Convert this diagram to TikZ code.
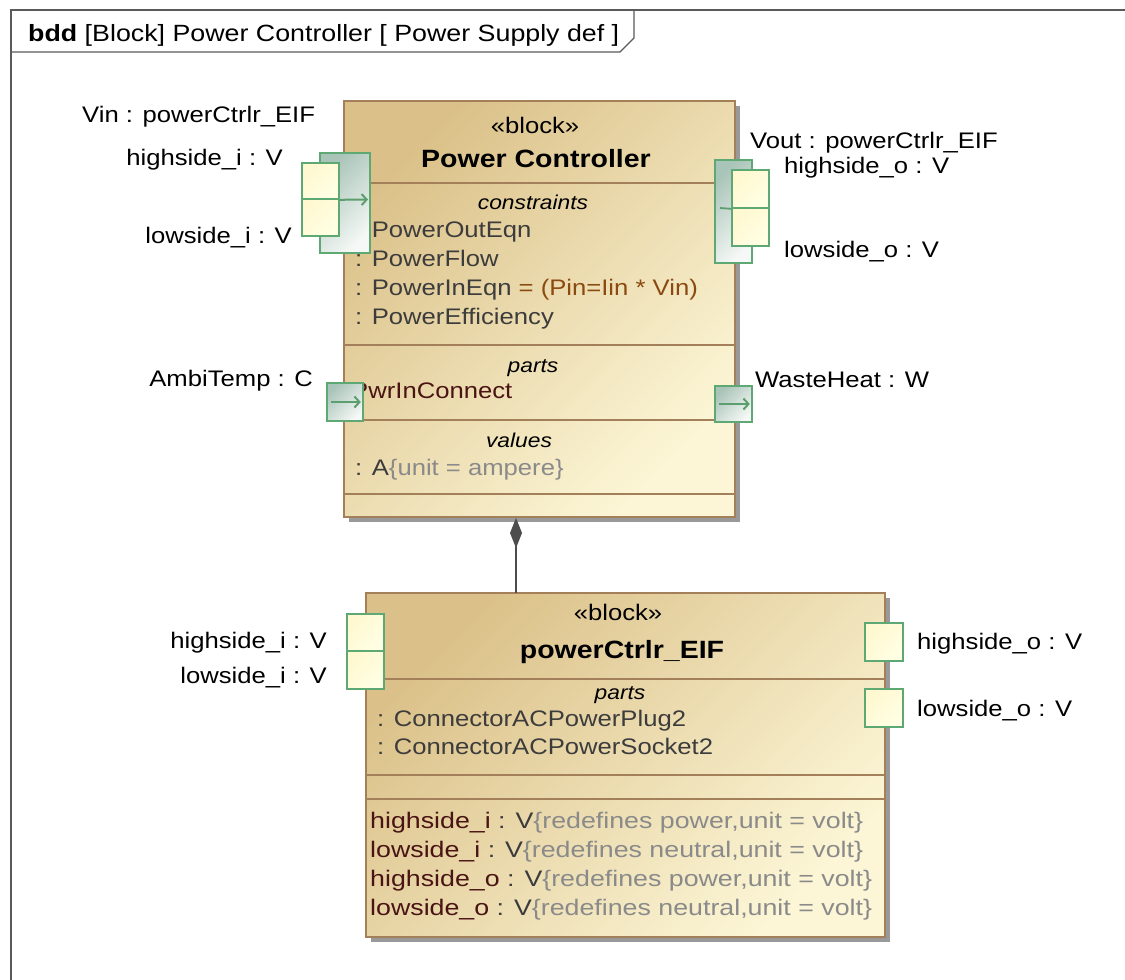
\documentclass[tikz,border=0pt]{standalone}
\usepackage{fontspec}
\setmainfont[FakeStretch=1.14]{Liberation Sans}
\usetikzlibrary{arrows.meta,shadows}
\definecolor{framec}{HTML}{5A5A5A}
\definecolor{blkA}{HTML}{DBC189}
\definecolor{blkB}{HTML}{FCF6D6}
\definecolor{blkborder}{HTML}{A4805A}
\definecolor{fpA}{HTML}{A9C4B8}
\definecolor{fpB}{HTML}{F5F8F6}
\definecolor{spA}{HTML}{FFF8D0}
\definecolor{spB}{HTML}{FFFFE4}
\definecolor{portgreen}{HTML}{5EA874}
\definecolor{arrowgreen}{HTML}{5C9F6E}
\definecolor{tdark}{HTML}{3C3C3C}
\definecolor{texpr}{HTML}{8B4A10}
\definecolor{tpart}{HTML}{4A1414}
\definecolor{tlight}{HTML}{8A8A8A}
\definecolor{compc}{HTML}{4D4D4D}
\newcommand\rtx{\fontsize{22.5}{27}\selectfont}
\newcommand\ttx{\fontsize{25}{30}\selectfont\bfseries}
\newcommand\htx{\fontsize{20}{24}\selectfont\itshape}
\newcommand\wtx{\fontsize{22.5}{27}\selectfont\addfontfeature{FakeStretch=1.19}}
\begin{document}
\begin{tikzpicture}[x=1pt,y=-1pt,
  frameline/.style={draw=framec, line width=1.3pt},
  blk/.style={draw=blkborder, line width=1.6pt, top color=blkA, bottom color=blkB, shading angle=45, inner sep=0pt,
    drop shadow={shadow xshift=5pt, shadow yshift=-5pt, fill=black!40, opacity=1}},
  cline/.style={draw=blkborder, line width=1.6pt},
  fport/.style={draw=portgreen, line width=1.6pt, top color=fpA, bottom color=fpB, shading angle=45, inner sep=0pt},
  sport/.style={draw=portgreen, line width=1.6pt, top color=spA, bottom color=spB, shading angle=45, inner sep=0pt},
  farrow/.style={draw=arrowgreen, line width=2pt, -{Straight Barb[length=5pt,width=11pt]}},
  txt/.style={inner sep=0pt, font=\rtx},
  lbl/.style={inner sep=0pt, font=\rtx, text=black},
  comp/.style={draw=compc, line width=1.4pt, {Diamond[length=30pt,width=12pt,fill=compc]}-}
]
\useasboundingbox[fill=white] (0,0) rectangle (1125,980);

% frame
\draw[frameline] (11,990) -- (11,10) -- (1135,10);
\draw[frameline] (11,52) -- (620,52) -- (634,38) -- (634,10);
\node[txt, anchor=base west, font=\fontsize{23.5}{28}\selectfont] (hdr) at (28,41)
  {\textbf{bdd} [Block] Power Controller [ Power Supply def ]};

% ---------- block 1 : Power Controller ----------
\node[blk, minimum width=391pt, minimum height=416pt] (pc) at (539.5,309) {};
\draw[cline] (344,183) -- (735,183);
\draw[cline] (344,345) -- (735,345);
\draw[cline] (344,420) -- (735,420);
\draw[cline] (344,494) -- (735,494);

\node[txt, anchor=base] (pcst) at (535,133) {«block»};
\node[txt, anchor=base, font=\ttx] (pcname) at (536,167) {Power Controller};
\node[txt, anchor=base, font=\htx] (pccon) at (533,209) {constraints};
\node[txt, anchor=base west, text=tdark] (c1) at (355,237) {: PowerOutEqn};
\node[txt, anchor=base west, text=tdark] (c2) at (355,266) {: PowerFlow};
\node[txt, anchor=base west, text=tdark] (c3) at (355,295) {: PowerInEqn \textcolor{texpr}{= (Pin=Iin * Vin)}};
\node[txt, anchor=base west, text=tdark] (c4) at (355,324) {: PowerEfficiency};
\node[txt, anchor=base, font=\htx] (pcparts) at (533,372) {parts};
\node[txt, anchor=base west, text=tpart] (p1) at (351,398) {PwrInConnect};
\node[txt, anchor=base, font=\htx] (pcval) at (519,447) {values};
\node[txt, anchor=base west, text=tdark] (v1) at (355,475) {: A\textcolor{tlight}{\{unit = ampere\}}};

% ports of block 1
\node[fport, minimum width=50pt, minimum height=100pt] (vin) at (345,203) {};
\node[sport, minimum width=37pt, minimum height=36pt] (vinhi) at (320.5,181) {};
\node[sport, minimum width=37pt, minimum height=37pt] (vinlo) at (320.5,217.5) {};
\coordinate (vinarr) at (368,199.5);
\draw[farrow] (vinhi.south east) -- (vinarr);

\node[fport, minimum width=37pt, minimum height=103pt] (vout) at (733.5,211.5) {};
\node[sport, minimum width=37pt, minimum height=38pt] (vouthi) at (750.5,189) {};
\node[sport, minimum width=37pt, minimum height=38pt] (voutlo) at (750.5,227) {};
\coordinate (voutln) at (720,208);
\draw[draw=arrowgreen, line width=1.8pt] (voutln) -- (vouthi.south west);

\node[fport, minimum width=36pt, minimum height=38pt] (amb) at (345,402) {};
\draw[farrow] ([xshift=5pt]amb.west) -- ([xshift=-3pt]amb.east);
\node[fport, minimum width=37pt, minimum height=36pt] (waste) at (733.5,404) {};
\draw[farrow] ([xshift=5pt]waste.west) -- ([xshift=-3pt]waste.east);

% labels of block 1
\node[lbl, anchor=base west] (lvin) at (82,122) {Vin : powerCtrlr\_EIF};
\node[lbl, anchor=base east] (lhi) at (283,165) {highside\_i : V};
\node[lbl, anchor=base east] (llo) at (292,243) {lowside\_i : V};
\node[lbl, anchor=base west] (lvout) at (750,148) {Vout : powerCtrlr\_EIF};
\node[lbl, anchor=base west] (lho) at (784,173) {highside\_o : V};
\node[lbl, anchor=base west] (llow) at (784,257) {lowside\_o : V};
\node[lbl, anchor=base east] (lamb) at (313,386) {AmbiTemp : C};
\node[lbl, anchor=base west] (lwaste) at (755,387) {WasteHeat : W};

% ---------- block 2 : powerCtrlr_EIF ----------
\node[blk, minimum width=519pt, minimum height=344pt] (eif) at (625.5,765) {};
\draw[cline] (366,679) -- (885,679);
\draw[cline] (366,775) -- (885,775);
\draw[cline] (366,799) -- (885,799);

\node[txt, anchor=base] (eifst) at (618,620) {«block»};
\node[txt, anchor=base, font=\ttx] (eifname) at (622,658) {powerCtrlr\_EIF};
\node[txt, anchor=base, font=\htx] (eifparts) at (620,699) {parts};
\node[txt, anchor=base west, text=tdark] (q1) at (377,726) {: ConnectorACPowerPlug2};
\node[txt, anchor=base west, text=tdark] (q2) at (377,754) {: ConnectorACPowerSocket2};
\node[txt, font=\wtx, anchor=base west, text=tdark] (a1) at (370,828) {\textcolor{tpart}{highside\_i} : V\textcolor{tlight}{\{redefines power,unit = volt\}}};
\node[txt, font=\wtx, anchor=base west, text=tdark] (a2) at (370,857) {\textcolor{tpart}{lowside\_i} : V\textcolor{tlight}{\{redefines neutral,unit = volt\}}};
\node[txt, font=\wtx, anchor=base west, text=tdark] (a3) at (370,886) {\textcolor{tpart}{highside\_o} : V\textcolor{tlight}{\{redefines power,unit = volt\}}};
\node[txt, font=\wtx, anchor=base west, text=tdark] (a4) at (370,915) {\textcolor{tpart}{lowside\_o} : V\textcolor{tlight}{\{redefines neutral,unit = volt\}}};

% ports of block 2
\node[sport, minimum width=37pt, minimum height=37pt] (ehi) at (365.5,632.5) {};
\node[sport, minimum width=37pt, minimum height=38pt] (elo) at (365.5,670) {};
\node[sport, minimum width=38pt, minimum height=38pt] (eho) at (884,642) {};
\node[sport, minimum width=38pt, minimum height=38pt] (elow) at (884,708) {};

\node[lbl, anchor=base east] (lehi) at (327,648) {highside\_i : V};
\node[lbl, anchor=base east] (lelo) at (327,683) {lowside\_i : V};
\node[lbl, anchor=base west] (leho) at (917,649) {highside\_o : V};
\node[lbl, anchor=base west] (lelow) at (917,716) {lowside\_o : V};

% composition
\coordinate (compA) at (516,518);
\coordinate (compB) at (516,593);
\draw[comp] (compA) -- (compB);
\end{tikzpicture}
\end{document}
